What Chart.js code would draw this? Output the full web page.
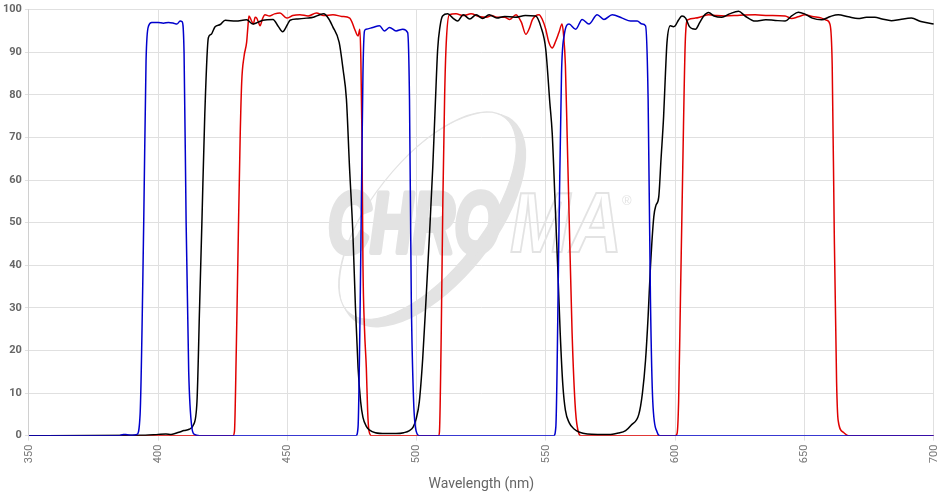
<!DOCTYPE html>
<html>
<head>
<meta charset="utf-8">
<script src="https://cdn.jsdelivr.net/npm/chart.js@4.4.0/dist/chart.umd.min.js"></script>
<style>
  html, body { margin: 0; padding: 0; background: #fff; }
  #wrap { width: 951px; height: 497px; position: relative; }
</style>
</head>
<body>
<div id="wrap"><canvas id="grafico"></canvas></div>
<script>
// ejes
const xTicks = [350, 400, 450, 500, 550, 600, 650, 700];
const yTicks = [0, 10, 20, 30, 40, 50, 60, 70, 80, 90, 100];

// excitacion (azul)
const exNm = [350, 385, 386.5, 388, 390, 391.8, 393, 394.4, 395.3, 396.3, 397.5, 400, 402, 404, 406, 407.2, 408.5, 409.2, 410, 410.8, 411.8, 413, 414, 416,
  476.5, 477.3, 478, 478.6, 479.2, 479.8, 480.4, 483, 485.6, 487.5, 489.5, 492, 494.6, 496.5, 497.2, 497.9, 498.8, 499.8, 501,
  553, 553.8, 555, 556, 557, 558.9, 561.5, 564, 566.6, 569.8, 572.4, 575.6, 579.5, 582.7, 585.3, 587.2, 588.5, 589.5, 590.4, 591.3, 593, 594, 700];
const exVal = [0, 0, 0.3, 0.2, 0.1, 0.3, 5, 50, 88, 96.2, 97, 97, 96.8, 97, 96.8, 96.6, 97.3, 97.2, 90, 50, 15, 2, 0.3, 0,
  0, 2, 25, 55, 85, 95, 95.4, 95.8, 96.2, 95, 95.8, 95, 95.4, 94.6, 79, 32, 8, 1, 0,
  0, 2, 47.5, 85, 93.8, 96.6, 95.4, 97.7, 96.6, 98.8, 97.7, 98.8, 98, 97.3, 97.3, 96.6, 96.2, 79, 32, 8, 0.8, 0, 0];

// dicroico (negro)
const diNm = [350, 395, 400, 403, 405, 408, 410, 412, 413.6, 415, 416, 416.9, 418, 419.4, 420.5, 422, 424, 425.9, 430, 434.2, 436.7, 438.5, 440.5, 444.4, 446.5, 448.1, 450, 451, 454, 457.4, 460, 462.5, 464, 466, 467.5, 470, 471.5, 472.8, 474, 475.3, 476.3, 477.3, 478.3, 479.2, 480.5, 481.8, 484, 488, 492, 495,
  497.2, 498.6, 499.8, 501, 502.3, 503.6, 505, 506.2, 507.2, 508.1, 509, 510, 512, 514, 515.8, 518, 520.5, 523, 525.5, 528, 531, 534, 538, 542, 546, 548, 549.9, 551.5, 552.4, 553.5, 554.5, 555.5, 556.5, 557.5, 559, 561, 563, 566, 570, 575,
  578, 580.8, 583, 585.9, 587.3, 588.5, 589.5, 590.4, 591.7, 592.5, 593.6, 594.5, 595.5, 596.2, 596.8, 598.1, 599.3, 600, 601.2, 602.6, 604, 605.5, 606.7, 607.8, 609.5, 611, 612.9, 615, 618, 621, 624.5, 627, 630.9, 635, 638, 642.5, 645, 647.6, 650, 653, 656.6, 660, 663, 667, 670.7, 674, 677.2, 680, 683.6, 687, 691.3, 695, 700];
const diVal = [0, 0.1, 0.3, 0.4, 0.3, 0.8, 1.2, 1.5, 2.5, 8, 30, 50, 75, 93.4, 94.2, 96, 96.5, 97.5, 97.3, 97.6, 96.6, 97, 97.5, 97.7, 96, 94.8, 96.5, 97.5, 97.8, 98, 98.2, 98.8, 99, 97.8, 96, 92.3, 86, 79, 63, 47.5, 30, 16, 8, 4.3, 2.2, 1.3, 0.7, 0.5, 0.5, 0.7,
  1.2, 2, 4, 8, 18, 32, 48, 63, 78, 90.7, 96, 98.5, 99, 98, 97.3, 98.8, 97.8, 98.8, 97.9, 98.8, 98, 98.4, 98.2, 98.6, 98.5, 96, 90.7, 78, 71, 55, 40, 24, 12, 6, 3, 1.5, 0.8, 0.4, 0.3, 0.3,
  0.6, 1.2, 2.5, 5, 10, 17.7, 28, 39.6, 51.4, 54, 56, 65, 75, 85, 92.3, 96.2, 96, 96.2, 97.5, 98.5, 98, 96, 95.5, 95.4, 97, 98.5, 99.3, 98.5, 98.2, 99, 99.6, 98.5, 97.3, 97.6, 97.5, 97.3, 98.5, 99.4, 99, 98, 97.6, 98.4, 98.8, 98.3, 97.9, 98.2, 98.2, 97.8, 97.4, 97.7, 98, 97.2, 96.6];

// emision (rojo)
const emNm = [350, 429, 429.5, 430.2, 431, 431.7, 432.3, 433.2, 434.2, 434.7, 435.1, 436, 436.8, 437.5, 438.1, 438.8, 439.4, 440.3, 441.3, 443, 445, 447.1, 449.7, 452, 454.8, 458, 461.2, 464, 467.6, 471, 474.1, 475, 476, 477.3, 478, 478.4, 478.8, 479.2, 479.8, 480.5, 481, 481.5, 482.5,
  508.5, 508.8, 509.5, 510.1, 510.8, 511.4, 512.6, 515.2, 518, 521, 524, 527, 529, 531, 534, 536, 538.4, 540.5, 542.2, 543.5, 544.8, 547.3, 548.5, 549.9, 551, 552.4, 553.7, 555, 556.2, 556.8, 557.5, 558.2, 558.8, 560.1, 561.4, 562.7, 563.5,
  600, 600.7, 601.3, 602, 602.9, 603.9, 604.8, 607.8, 610, 612.9, 616, 619.3, 625, 630.9, 636, 642.5, 645, 647.5, 650.2, 653, 656.6, 658.5, 659.8, 660.7, 661.5, 662.4, 663, 665, 667, 700];
const emVal = [0, 0, 1, 20, 47.5, 70, 83, 89, 92.3, 96, 98.5, 97.5, 96.6, 98.2, 98, 97, 96.2, 97.8, 98.8, 98.5, 99, 99.2, 98, 98.6, 98.8, 98.5, 99.2, 98.6, 98.8, 98.4, 98, 97, 95.4, 93.8, 95.4, 88, 71, 40, 25, 16, 6, 1.2, 0,
  0, 1, 25, 55, 80, 92, 98.8, 99, 98.6, 99, 98.4, 98.2, 98.6, 98.2, 98.2, 97.7, 98.8, 97, 94.2, 95.5, 97.7, 98.8, 97.8, 95.4, 92.5, 91, 92.5, 94.6, 96.6, 94, 87, 70, 55, 24, 6, 0.5, 0,
  0, 0.5, 8, 32, 63, 93, 97.6, 98, 98.3, 98.8, 98.6, 98.5, 98.7, 98.8, 98.6, 98.5, 97.9, 98.3, 98.8, 98.4, 98, 97.5, 96.6, 87, 47.5, 12.6, 3.6, 0.8, 0, 0];

function puntos(nm, val) {
    return nm.map((x, i) => ({ x: x, y: val[i] }));
}

// texto estirado a un ancho dado
function textoAncho(ctx, txt, x, y, ancho, relleno) {
    const w = ctx.measureText(txt).width;
    ctx.save();
    ctx.translate(x, y);
    ctx.scale(ancho / w, 1);
    if (relleno) {
        ctx.lineWidth = 6;
        ctx.lineJoin = 'round';
        ctx.strokeText(txt, 0, 0);
        ctx.fillText(txt, 0, 0);
    } else {
        ctx.lineWidth = 2;
        ctx.strokeText(txt, 0, 0);
    }
    ctx.restore();
}

// marca de agua (logo)
const marcaAgua = {
    id: 'marcaAgua',
    beforeDatasetsDraw(chart) {
        const ctx = chart.ctx;
        const gris = '#e3e3e3';
        ctx.save();
        // arco
        ctx.save();
        ctx.translate(433, 220);
        ctx.rotate(-0.9);
        ctx.fillStyle = gris;
        ctx.beginPath();
        ctx.ellipse(0, 0, 128, 62, 0, 0, Math.PI * 2);
        ctx.ellipse(0, -7, 125, 55, 0, 0, Math.PI * 2);
        ctx.fill('evenodd');
        ctx.strokeStyle = gris;
        ctx.lineWidth = 1.2;
        ctx.beginPath();
        ctx.ellipse(0, -7, 125, 55, 0, 0, Math.PI * 2);
        ctx.stroke();
        ctx.restore();
        // letras
        ctx.font = 'italic bold 86px "Liberation Sans", Arial, sans-serif';
        ctx.textBaseline = 'alphabetic';
        ctx.fillStyle = gris;
        ctx.strokeStyle = gris;
        textoAncho(ctx, 'CHRO', 328, 252, 172, true);
        textoAncho(ctx, 'MA', 510, 252, 112, false);
        ctx.font = '13px "Liberation Sans", sans-serif';
        ctx.fillText('®', 622, 205);
        ctx.restore();
    }
};

const ctx = document.getElementById('grafico').getContext('2d');
new Chart(ctx, {
    type: 'line',
    data: {
        datasets: [
            { label: 'Excitation', data: puntos(exNm, exVal), borderColor: '#0000cc' },
            { label: 'Dichroic', data: puntos(diNm, diVal), borderColor: '#000000' },
            { label: 'Emission', data: puntos(emNm, emVal), borderColor: '#e00000' }
        ]
    },
    options: {
        responsive: true,
        maintainAspectRatio: false,
        animation: false,
        layout: { padding: { right: 8, top: 4, bottom: 4 } },
        elements: {
            point: { radius: 0 },
            line: { borderWidth: 1.5, cubicInterpolationMode: 'monotone', fill: false }
        },
        plugins: {
            legend: { display: false },
            tooltip: { enabled: false }
        },
        scales: {
            x: {
                type: 'linear',
                min: 350,
                max: 700,
                afterBuildTicks: axis => { axis.ticks = xTicks.map(v => ({ value: v })); },
                ticks: {
                    color: '#777',
                    font: { family: 'Roboto', size: 11 },
                    minRotation: 90,
                    maxRotation: 90,
                    padding: 4
                },
                grid: { color: '#e0e0e0', tickLength: 5 },
                border: { color: '#e0e0e0' },
                title: {
                    display: true,
                    text: 'Wavelength (nm)',
                    color: '#666',
                    font: { family: 'Roboto', size: 14 },
                    padding: { top: 9, bottom: 0 }
                }
            },
            y: {
                min: 0,
                max: 100,
                afterBuildTicks: axis => { axis.ticks = yTicks.map(v => ({ value: v })); },
                ticks: {
                    color: '#666',
                    font: { family: 'Roboto', size: 11, weight: 'bold' },
                    padding: 3
                },
                grid: { color: '#e0e0e0', tickLength: 4 },
                border: { color: '#d0d0d0' }
            }
        }
    },
    plugins: [marcaAgua]
});
</script>
</body>
</html>
